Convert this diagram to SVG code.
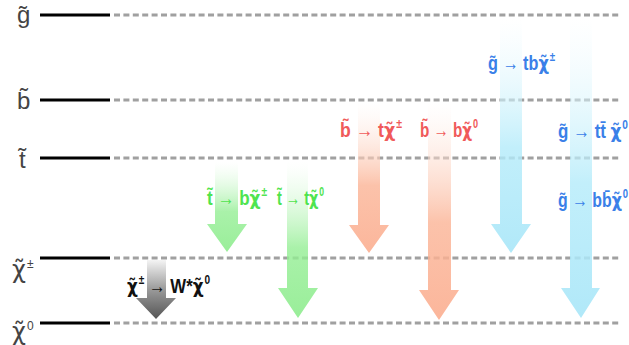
<svg xmlns="http://www.w3.org/2000/svg" width="629" height="345" viewBox="0 0 629 345">
<style>
.solid{stroke:#000;stroke-width:3}
.dash{stroke:#a0a0a0;stroke-width:3;stroke-dasharray:6 3.4}
.lvl{font-family:"Liberation Sans",Arial,sans-serif;font-size:24px;fill:#444}
.lab{font-family:"Liberation Sans",Arial,sans-serif;font-size:20px;font-weight:bold}
.chi{font-family:"DejaVu Sans","Liberation Sans",sans-serif}
.sup{font-size:12px}
.green{fill:#4fe44f}
.red{fill:#f05a5a}
.blue{fill:#3a80e8}
.black{fill:#111}
</style>
<defs>
<linearGradient id="gGreen" x1="0" y1="0" x2="0" y2="1">
<stop offset="0" stop-color="#ffffff" stop-opacity="0.3"/>
<stop offset="0.55" stop-color="#94ee94" stop-opacity="0.8"/>
<stop offset="1" stop-color="#8eec8e" stop-opacity="0.9"/>
</linearGradient>
<linearGradient id="gRed" x1="0" y1="0" x2="0" y2="1">
<stop offset="0" stop-color="#ffffff" stop-opacity="0.3"/>
<stop offset="0.55" stop-color="#fbb395" stop-opacity="0.8"/>
<stop offset="1" stop-color="#fbae90" stop-opacity="0.9"/>
</linearGradient>
<linearGradient id="gBlue" x1="0" y1="0" x2="0" y2="1">
<stop offset="0" stop-color="#ffffff" stop-opacity="0.3"/>
<stop offset="0.55" stop-color="#b3ebfa" stop-opacity="0.8"/>
<stop offset="1" stop-color="#a8e6f8" stop-opacity="0.9"/>
</linearGradient>
<linearGradient id="gGray" x1="0" y1="0" x2="0" y2="1">
<stop offset="0" stop-color="#f4f4f4"/>
<stop offset="0.5" stop-color="#9a9a9a"/>
<stop offset="1" stop-color="#555555"/>
</linearGradient>
</defs>

<g id="level-gluino">
<line class="solid" x1="40" y1="15" x2="110" y2="15"/>
<line class="dash" x1="114" y1="15" x2="620" y2="15"/>
<text class="lvl" x="17" y="23">g&#x303;</text>
</g>
<g id="level-sbottom">
<line class="solid" x1="40" y1="100" x2="110" y2="100"/>
<line class="dash" x1="114" y1="100" x2="620" y2="100"/>
<text class="lvl" x="17" y="109">b&#x303;</text>
</g>
<g id="level-stop">
<line class="solid" x1="40" y1="158" x2="110" y2="158"/>
<line class="dash" x1="114" y1="158" x2="620" y2="158"/>
<text class="lvl" x="19" y="168">t&#x303;</text>
</g>
<g id="level-chargino">
<line class="solid" x1="40" y1="258" x2="110" y2="258"/>
<line class="dash" x1="114" y1="258" x2="620" y2="258"/>
<text class="lvl" x="12" y="278"><tspan class="chi">χ&#x303;</tspan><tspan class="sup" dx="1" dy="-10">±</tspan></text>
</g>
<g id="level-neutralino">
<line class="solid" x1="40" y1="323" x2="110" y2="323"/>
<line class="dash" x1="114" y1="323" x2="620" y2="323"/>
<text class="lvl" x="12" y="340"><tspan class="chi">χ&#x303;</tspan><tspan class="sup" dx="1" dy="-10">0</tspan></text>
</g>

<g id="connectors">
<path fill="url(#gGray)" d="M147 260 H166 V298 H176 L156 319 L136 298 H147 Z"/>
<path fill="url(#gGreen)" d="M215 162 H238 V224 H247 L227 252 L207 224 H215 Z"/>
<path fill="url(#gGreen)" d="M287 162 H308 V288 H318 L298 318 L278 288 H287 Z"/>
<path fill="url(#gRed)" d="M358 103 H380 V225 H389 L369 253 L349 225 H358 Z"/>
<path fill="url(#gRed)" d="M428 103 H451 V290 H459 L439 320 L419 290 H428 Z"/>
<path fill="url(#gBlue)" d="M500 18 H522 V224 H531 L511 253 L491 224 H500 Z"/>
<path fill="url(#gBlue)" d="M570 18 H592 V288 H600 L581 318 L561 288 H570 Z"/>

<text class="lab black" x="127" y="293" textLength="83" lengthAdjust="spacingAndGlyphs"><tspan class="chi">χ&#x303;</tspan><tspan class="sup" dx="1" dy="-9">±</tspan><tspan dy="9"> → W*</tspan><tspan class="chi">χ&#x303;</tspan><tspan class="sup" dx="1" dy="-9">0</tspan></text>
<text class="lab green" x="207" y="205" textLength="60" lengthAdjust="spacingAndGlyphs">t&#x303; → b<tspan class="chi">χ&#x303;</tspan><tspan class="sup" dx="1" dy="-9">±</tspan></text>
<text class="lab green" x="277" y="205" textLength="47" lengthAdjust="spacingAndGlyphs">t&#x303; → t<tspan class="chi">χ&#x303;</tspan><tspan class="sup" dx="1" dy="-9">0</tspan></text>
<text class="lab red" x="340" y="137" textLength="62" lengthAdjust="spacingAndGlyphs">b&#x303; → t<tspan class="chi">χ&#x303;</tspan><tspan class="sup" dx="1" dy="-9">±</tspan></text>
<text class="lab red" x="420" y="137" textLength="58" lengthAdjust="spacingAndGlyphs">b&#x303; → b<tspan class="chi">χ&#x303;</tspan><tspan class="sup" dx="1" dy="-9">0</tspan></text>
<text class="lab blue" x="488" y="70" textLength="67" lengthAdjust="spacingAndGlyphs">g&#x303; → tb<tspan class="chi">χ&#x303;</tspan><tspan class="sup" dx="1" dy="-9">±</tspan></text>
<text class="lab blue" x="558" y="138" textLength="70" lengthAdjust="spacingAndGlyphs">g&#x303; → tt&#x304; <tspan class="chi">χ&#x303;</tspan><tspan class="sup" dx="1" dy="-9">0</tspan></text>
<text class="lab blue" x="558" y="207" textLength="70" lengthAdjust="spacingAndGlyphs">g&#x303; → bb&#x304;<tspan class="chi">χ&#x303;</tspan><tspan class="sup" dx="1" dy="-9">0</tspan></text>
</g>
</svg>
